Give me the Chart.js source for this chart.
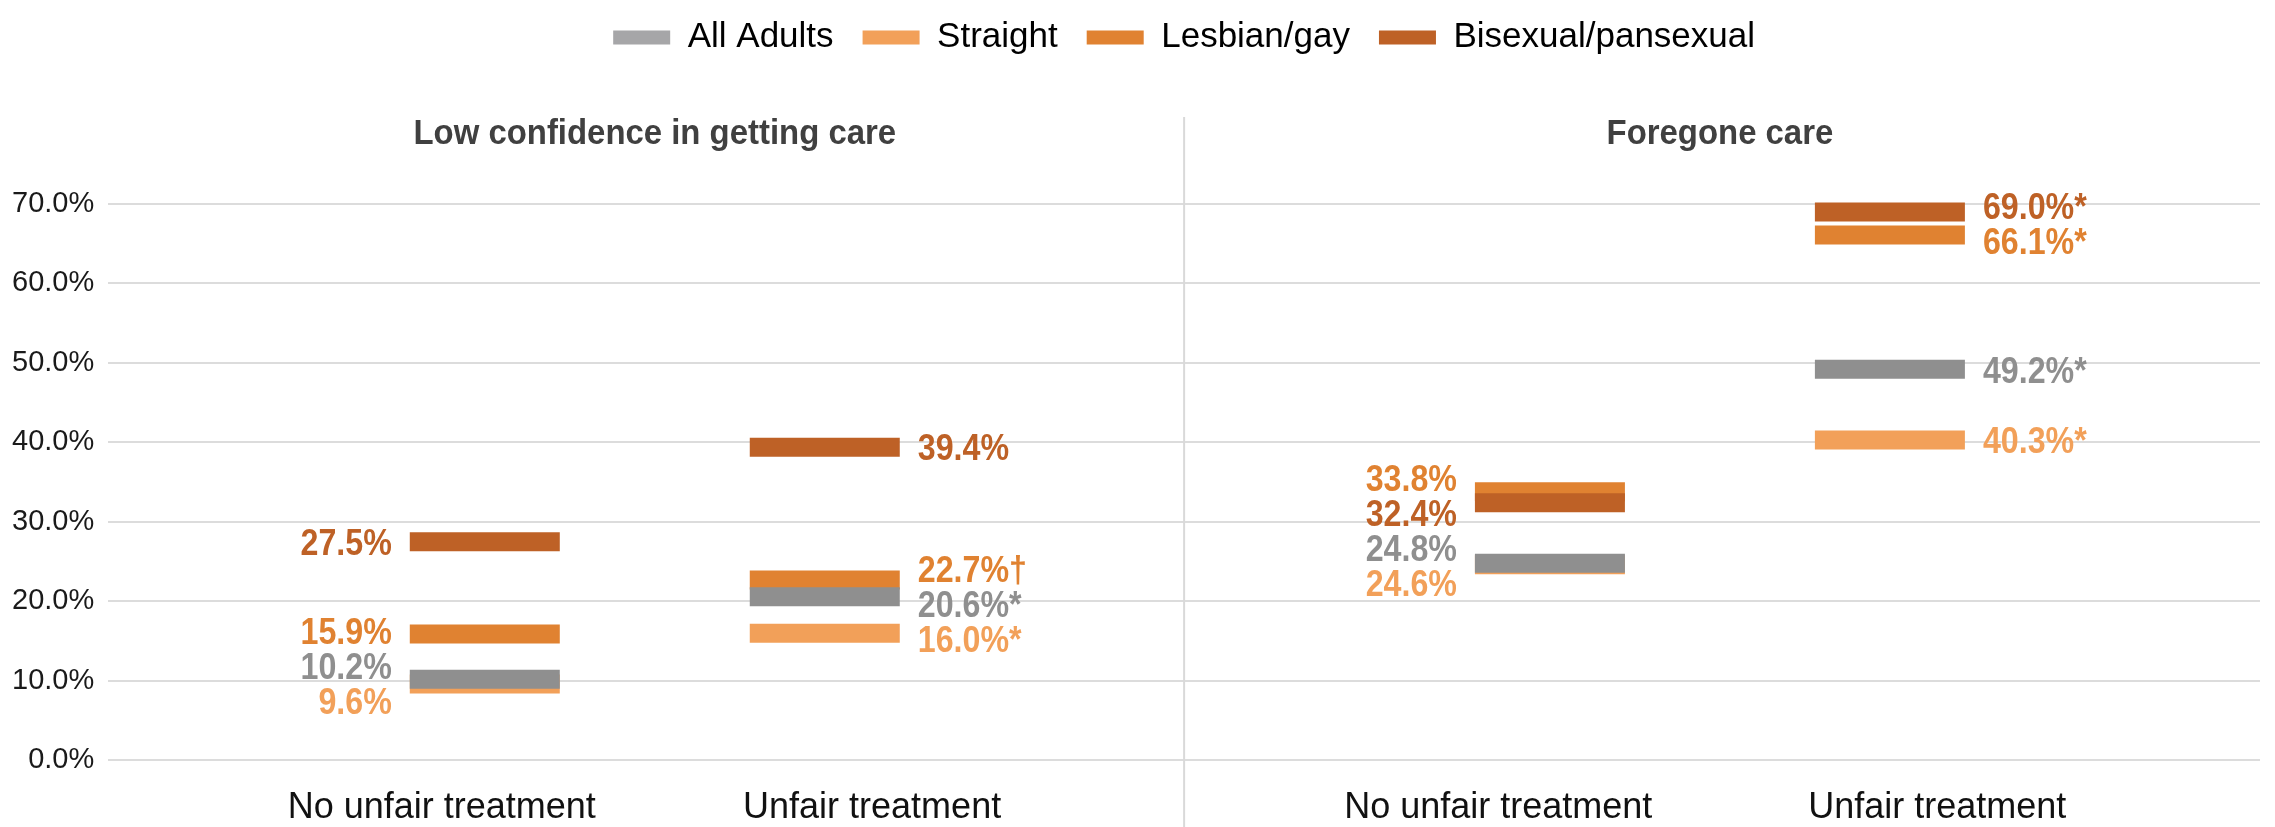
<!DOCTYPE html>
<html>
<head>
<meta charset="utf-8">
<script src="https://cdn.jsdelivr.net/npm/chart.js@4.4.1/dist/chart.umd.min.js"></script>
<style>
  html, body { margin: 0; padding: 0; background: #fff; }
  #wrap { width: 2275px; height: 827px; }
</style>
</head>
<body>
<div id="wrap"><canvas id="chart"></canvas></div>
<script>
// data
const categories = ["No unfair treatment", "Unfair treatment", "No unfair treatment", "Unfair treatment"];
const panels = ["Low confidence in getting care", "Foregone care"];
const seriesNames = ["All Adults", "Straight", "Lesbian/gay", "Bisexual/pansexual"];
const allAdults = [10.2, 20.6, 24.8, 49.2];
const straight = [9.6, 16.0, 24.6, 40.3];
const lesbianGay = [15.9, 22.7, 33.8, 66.1];
const bisexual = [27.5, 39.4, 32.4, 69.0];
const allAdultsNotes = ["", "*", "", "*"];
const straightNotes = ["", "*", "", "*"];
const lesbianGayNotes = ["", "\u2020", "", "*"];
const bisexualNotes = ["", "", "", "*"];
const yTicks = [0, 10, 20, 30, 40, 50, 60, 70];

// layout (x axis runs 0..100, panels split at 50)
const TICK_X = [15.5, 35.5, 64.6, 85];
const BAR_X = [17.5, 33.3, 67, 82.8];
const LABEL_SIDE = [-1, 1, -1, 1];
const SPLIT_X = 50;
const FONT = '"Liberation Sans", Arial, sans-serif';

const series = [
  { name: seriesNames[0], values: allAdults, notes: allAdultsNotes, color: "#8f8f8f", legend: "#a6a6a8", order: 0 },
  { name: seriesNames[1], values: straight, notes: straightNotes, color: "#f2a059", legend: "#f2a059", order: 2 },
  { name: seriesNames[2], values: lesbianGay, notes: lesbianGayNotes, color: "#e08231", legend: "#e08231", order: 3 },
  { name: seriesNames[3], values: bisexual, notes: bisexualNotes, color: "#be6126", legend: "#be6126", order: 1 },
];

// push overlapping labels apart, keeping each cluster centred on its bars
function spread(items, gap) {
  let groups = items.map((it) => ({ members: [it], center: it.y }));
  let merged = true;
  while (merged) {
    merged = false;
    for (let i = 0; i < groups.length - 1; i++) {
      const a = groups[i], b = groups[i + 1];
      const aBottom = a.center + ((a.members.length - 1) * gap) / 2;
      const bTop = b.center - ((b.members.length - 1) * gap) / 2;
      if (bTop - aBottom < gap) {
        const members = a.members.concat(b.members);
        const center = members.reduce((s, m) => s + m.y, 0) / members.length;
        groups.splice(i, 2, { members, center });
        merged = true;
        break;
      }
    }
  }
  groups.forEach((g) =>
    g.members.forEach((m, k) => {
      m.ly = g.center + (k - (g.members.length - 1) / 2) * gap;
    })
  );
}

const valueLabels = {
  id: "valueLabels",
  afterDatasetsDraw(chart) {
    const ctx = chart.ctx;
    const xs = chart.scales.x, ys = chart.scales.y;
    const size = 37;
    categories.forEach((cat, c) => {
      const items = series.map((s) => ({
        y: ys.getPixelForValue(s.values[c]),
        text: s.values[c].toFixed(1) + "%" + s.notes[c],
        color: s.color,
      }));
      items.sort((a, b) => a.y - b.y);
      spread(items, 35);
      const bx = xs.getPixelForValue(BAR_X[c]);
      const side = LABEL_SIDE[c];
      items.forEach((it) => {
        ctx.save();
        ctx.font = "bold " + size + "px " + FONT;
        ctx.fillStyle = it.color;
        ctx.textBaseline = "alphabetic";
        ctx.textAlign = side < 0 ? "right" : "left";
        ctx.translate(side < 0 ? bx - 75 - 18 : bx + 75 + 18, it.ly + size * 0.358);
        ctx.scale(0.87, 1);
        ctx.fillText(it.text, 0, 0);
        ctx.restore();
      });
    });
  },
};

const panelDecor = {
  id: "panelDecor",
  beforeDatasetsDraw(chart) {
    const ctx = chart.ctx;
    const xs = chart.scales.x;
    const top = chart.chartArea.top;
    const sx = xs.getPixelForValue(SPLIT_X);
    ctx.save();
    ctx.strokeStyle = "#d9d9d9";
    ctx.lineWidth = 2;
    ctx.beginPath();
    ctx.moveTo(sx, top - 87);
    ctx.lineTo(sx, chart.height);
    ctx.stroke();
    ctx.restore();
  },
  afterDraw(chart) {
    const ctx = chart.ctx;
    const xs = chart.scales.x;
    const top = chart.chartArea.top;
    panels.forEach((p, i) => {
      const cx = xs.getPixelForValue((BAR_X[2 * i] + BAR_X[2 * i + 1]) / 2);
      ctx.save();
      ctx.font = "bold 35px " + FONT;
      ctx.fillStyle = "#404040";
      ctx.textAlign = "center";
      ctx.textBaseline = "alphabetic";
      ctx.translate(cx, top - 73 + 35 * 0.358);
      ctx.scale(0.94, 1);
      ctx.fillText(p, 0, 0);
      ctx.restore();
    });
  },
};

const legendSpace = {
  id: "legendSpace",
  beforeInit(chart) {
    const fit = chart.legend.fit;
    chart.legend.fit = function () {
      fit.call(this);
      this.height = 213;
    };
  },
};

const chart = new Chart(document.getElementById("chart"), {
  type: "scatter",
  data: {
    datasets: series.map((s) => ({
      label: s.name,
      data: s.values.map((v, i) => ({ x: BAR_X[i], y: v })),
      pointStyle: "line",
      pointRadius: 75,
      pointHoverRadius: 75,
      pointBorderWidth: 19,
      pointHoverBorderWidth: 19,
      borderColor: s.color,
      backgroundColor: s.color,
      showLine: false,
      clip: false,
      order: s.order,
    })),
  },
  options: {
    responsive: true,
    maintainAspectRatio: false,
    animation: false,
    events: [],
    layout: { autoPadding: false, padding: { left: -2, right: 15, top: -9, bottom: -29 } },
    plugins: {
      tooltip: { enabled: false },
      legend: {
        position: "top",
        fullSize: false,
        labels: {
          font: { family: FONT, size: 35 },
          color: "#000",
          boxWidth: 57,
          boxHeight: 14,
          padding: 29,
          generateLabels: () =>
            series.map((s, i) => ({
              text: s.name,
              fillStyle: s.legend,
              strokeStyle: s.legend,
              lineWidth: 0,
              hidden: false,
              datasetIndex: i,
            })),
        },
      },
    },
    scales: {
      x: {
        type: "linear",
        min: 0,
        max: 100,
        grid: { display: false, drawTicks: false },
        border: { display: false },
        afterBuildTicks: (scale) => {
          scale.ticks = TICK_X.map((v) => ({ value: v }));
        },
        ticks: {
          autoSkip: false,
          maxRotation: 0,
          padding: 28,
          color: "#111",
          font: { family: FONT, size: 36, lineHeight: 1.1 },
          callback: (v, i) => categories[i],
        },
      },
      y: {
        min: 0,
        max: 70,
        afterBuildTicks: (scale) => {
          scale.ticks = yTicks.map((v) => ({ value: v }));
        },
        grid: { color: "#dcdcdc", lineWidth: 2, drawTicks: false },
        border: { display: false },
        ticks: {
          padding: 14,
          color: "#1a1a1a",
          font: { family: FONT, size: 29 },
          callback: (v) => v.toFixed(1) + "%",
        },
      },
    },
  },
  plugins: [legendSpace, panelDecor, valueLabels],
});
</script>
</body>
</html>
